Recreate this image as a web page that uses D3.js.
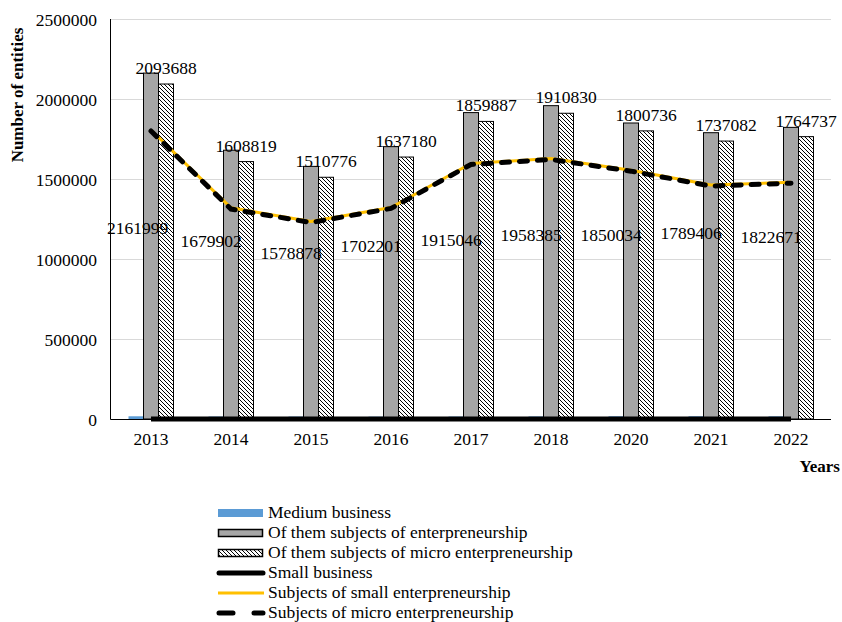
<!DOCTYPE html>
<html>
<head>
<meta charset="utf-8">
<script src="https://cdn.jsdelivr.net/npm/d3@7"></script>
<style>
  body { margin: 0; background: #fff; }
  svg { display: block; font-family: "Liberation Serif", "Times New Roman", serif; }
  .axis text { font-size: 17.5px; fill: #000; font-family: "Liberation Serif", "Times New Roman", serif; }
  .axis .domain { display: none; }
  .grid line { stroke: #d9d9d9; stroke-width: 1; }
  .lbl { font-size: 17.5px; fill: #000; }
  .legend text { font-size: 17.5px; fill: #000; }
</style>
</head>
<body>
<div id="chart"></div>
<script>
// Data
var years = ["2013", "2014", "2015", "2016", "2017", "2018", "2020", "2021", "2022"];
var mediumBusiness = [17000, 15500, 15200, 14800, 15300, 16100, 17100, 17100, 16500];
var enterprise = [2161999, 1679902, 1578878, 1702201, 1915046, 1958385, 1850034, 1789406, 1822671];
var microEnterprise = [2093688, 1608819, 1510776, 1637180, 1859887, 1910830, 1800736, 1737082, 1764737];
var smallBusiness = [0, 0, 0, 0, 0, 0, 0, 0, 0];
var smallSubjects = [1806000, 1320000, 1234000, 1322000, 1597000, 1628000, 1555000, 1462000, 1480000];
var microSubjects = [1800000, 1312000, 1228000, 1316000, 1591000, 1622000, 1549000, 1456000, 1474000];
// where Excel parked the grey-bar labels (value units)
var greyLabelAt = [1194000, 1112000, 1037000, 1081000, 1119000, 1150000, 1150000, 1162000, 1137000];
var yTicks = [0, 500000, 1000000, 1500000, 2000000, 2500000];

var legendKeys = ["Medium business", "Of them subjects of enterpreneurship",
    "Of them subjects of micro enterpreneurship", "Small business",
    "Subjects of small enterpreneurship", "Subjects of micro enterpreneurship"];

var W = 842, H = 622;
var mLeft = 111, mRight = 831, mTop = 19, mBottom = 419;

var svg = d3.select("#chart").append("svg")
    .attr("width", W)
    .attr("height", H);

// hatch pattern for micro bars
var defs = svg.append("defs");
var pat = defs.append("pattern")
    .attr("id", "hatch")
    .attr("patternUnits", "userSpaceOnUse")
    .attr("width", 4)
    .attr("height", 4);
pat.append("rect").attr("width", 4).attr("height", 4).attr("fill", "#fff");
pat.append("path")
    .attr("d", "M-1,-1 L5,5 M-1,3 L1,5 M3,-1 L5,1")
    .attr("stroke", "#000")
    .attr("stroke-width", 1);

var x = d3.scaleBand().domain(years).range([mLeft, mRight]).padding(0);
var y = d3.scaleLinear().domain([0, 2500000]).range([mBottom, mTop]);

var bw = 15;
function cx(i) { return x(years[i]) + x.bandwidth() / 2; }

// gridlines + y labels
svg.append("g")
    .attr("class", "axis grid")
    .attr("transform", "translate(" + mLeft + ",0)")
    .call(d3.axisLeft(y).tickValues(yTicks).tickSize(-(mRight - mLeft)).tickPadding(14).tickFormat(d3.format("d")))
    .selectAll("text").attr("dy", "0.35em");

// x axis labels
svg.append("g")
    .attr("class", "axis")
    .attr("transform", "translate(0," + mBottom + ")")
    .call(d3.axisBottom(x).tickSize(0).tickPadding(14));

// bars
var idx = d3.range(years.length);

svg.selectAll(".medium").data(idx).enter().append("rect")
    .attr("x", function (i) { return cx(i) - 1.5 * bw; })
    .attr("y", function (i) { return y(mediumBusiness[i]); })
    .attr("width", bw)
    .attr("height", function (i) { return y(0) - y(mediumBusiness[i]); })
    .attr("fill", "#5b9bd5");

svg.selectAll(".ent").data(idx).enter().append("rect")
    .attr("x", function (i) { return cx(i) - 0.5 * bw; })
    .attr("y", function (i) { return y(enterprise[i]); })
    .attr("width", bw)
    .attr("height", function (i) { return y(0) - y(enterprise[i]); })
    .attr("fill", "#a6a6a6")
    .attr("stroke", "#000")
    .attr("stroke-width", 1);

svg.selectAll(".micro").data(idx).enter().append("rect")
    .attr("x", function (i) { return cx(i) + 0.5 * bw; })
    .attr("y", function (i) { return y(microEnterprise[i]); })
    .attr("width", bw)
    .attr("height", function (i) { return y(0) - y(microEnterprise[i]); })
    .attr("fill", "url(#hatch)")
    .attr("stroke", "#000")
    .attr("stroke-width", 1);

// axis lines
svg.append("line")
    .attr("x1", mLeft - 0.5).attr("x2", mRight)
    .attr("y1", mBottom + 0.5).attr("y2", mBottom + 0.5)
    .attr("stroke", "#000");
svg.append("line")
    .attr("x1", mLeft - 0.5).attr("x2", mLeft - 0.5)
    .attr("y1", mTop).attr("y2", mBottom + 0.5)
    .attr("stroke", "#000");

// lines
function lineOf(vals) {
    return d3.line()
        .x(function (i) { return cx(i); })
        .y(function (i) { return y(vals[i]); })(idx);
}

svg.append("path")
    .attr("d", lineOf(smallBusiness))
    .attr("fill", "none")
    .attr("stroke", "#000")
    .attr("stroke-width", 5);

svg.append("path")
    .attr("d", lineOf(smallSubjects))
    .attr("fill", "none")
    .attr("stroke", "#ffc000")
    .attr("stroke-width", 3)
    .attr("stroke-linejoin", "round");

svg.append("path")
    .attr("d", lineOf(microSubjects))
    .attr("fill", "none")
    .attr("stroke", "#000")
    .attr("stroke-width", 5)
    .attr("stroke-linecap", "round")
    .attr("stroke-dasharray", "8,10");

// labels above bars (micro values)
svg.selectAll(".mlbl").data(idx).enter().append("text")
    .attr("class", "lbl")
    .attr("x", function (i) { return cx(i) + bw; })
    .attr("y", function (i) { return y(microEnterprise[i]) - 10; })
    .attr("text-anchor", "middle")
    .text(function (i) { return microEnterprise[i]; });

// grey bar labels
svg.selectAll(".glbl").data(idx).enter().append("text")
    .attr("class", "lbl")
    .attr("y", function (i) { return y(greyLabelAt[i]); })
    .attr("dy", "0.35em")
    .text(function (i) { return enterprise[i]; })
    .attr("x", function (i) {
        var w = this.getComputedTextLength();
        return Math.max(mLeft - 4, cx(i) - 20 - w / 2);
    });

// axis titles
svg.append("text")
    .attr("transform", "translate(23,95) rotate(-90)")
    .attr("text-anchor", "middle")
    .style("font-weight", "bold")
    .style("font-size", "17px")
    .text("Number of entities");

svg.append("text")
    .attr("x", 840)
    .attr("y", 472)
    .attr("text-anchor", "end")
    .style("font-weight", "bold")
    .style("font-size", "17px")
    .text("Years");

// legend
var lg = svg.append("g").attr("class", "legend");
var rowY = function (k) { return 513 + k * 20; };

lg.append("rect").attr("x", 218).attr("y", rowY(0) - 4).attr("width", 45).attr("height", 8).attr("fill", "#5b9bd5");
lg.append("rect").attr("x", 218.5).attr("y", rowY(1) - 3.5).attr("width", 44).attr("height", 7)
    .attr("fill", "#a6a6a6").attr("stroke", "#000").attr("stroke-width", 1.5);
lg.append("rect").attr("x", 218.5).attr("y", rowY(2) - 3.5).attr("width", 44).attr("height", 7)
    .attr("fill", "url(#hatch)").attr("stroke", "#000").attr("stroke-width", 1.5);
lg.append("line").attr("x1", 219).attr("x2", 263).attr("y1", rowY(3)).attr("y2", rowY(3))
    .attr("stroke", "#000").attr("stroke-width", 5).attr("stroke-linecap", "round");
lg.append("line").attr("x1", 218).attr("x2", 264).attr("y1", rowY(4)).attr("y2", rowY(4))
    .attr("stroke", "#ffc000").attr("stroke-width", 3);
lg.append("line").attr("x1", 219).attr("x2", 263).attr("y1", rowY(5)).attr("y2", rowY(5))
    .attr("stroke", "#000").attr("stroke-width", 5).attr("stroke-linecap", "round")
    .attr("stroke-dasharray", "14,21");

lg.selectAll("text").data(legendKeys).enter().append("text")
    .attr("x", 268)
    .attr("y", function (d, k) { return rowY(k) + 5; })
    .text(function (d) { return d; });
</script>
</body>
</html>
